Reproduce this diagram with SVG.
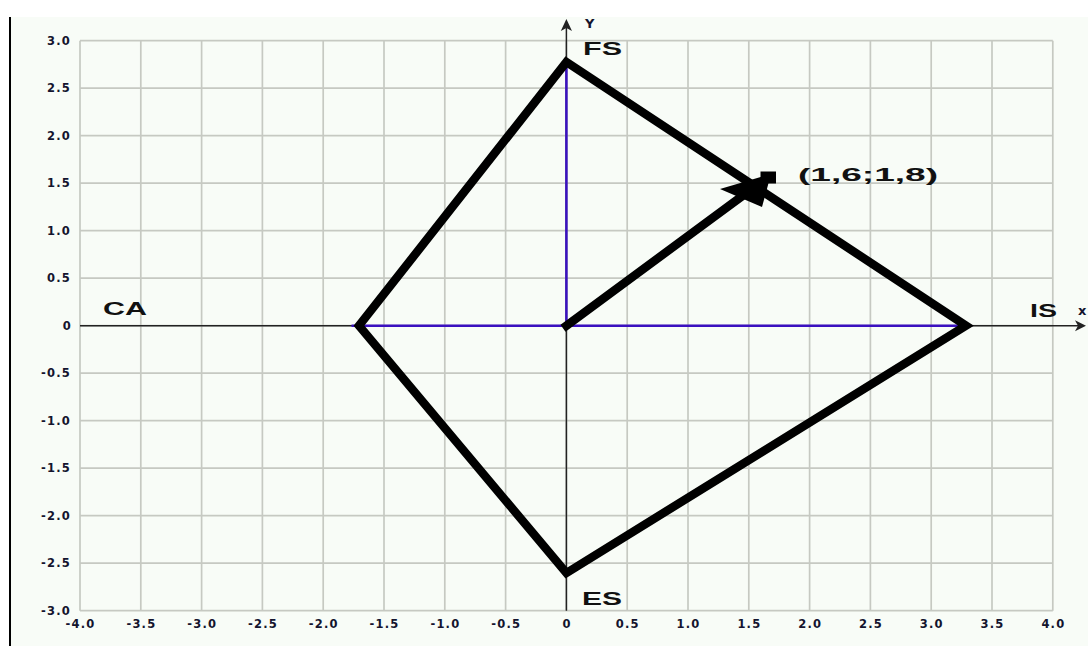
<svg xmlns="http://www.w3.org/2000/svg" width="1088" height="646" viewBox="0 0 1088 646">
<style>
.grid line{stroke:#c6c9c2;stroke-width:1.7}
.tick{font-family:"DejaVu Sans",sans-serif;font-weight:bold;font-size:11.5px;fill:#14142e;letter-spacing:1.2px}
.lbl{font-family:"Liberation Sans",Arial,sans-serif;font-weight:bold;font-size:18px;fill:#111}
.axis{stroke:#222;stroke-width:1.5;fill:none}
.blue{stroke:#3a10c0;stroke-width:2.5;fill:none}
.edge{stroke:#000;stroke-width:8.5;fill:none;stroke-linejoin:miter;stroke-linecap:round}
</style>
<rect x="0" y="0" width="1088" height="646" fill="#ffffff"/>
<rect x="11" y="17" width="1077" height="629" fill="#f8fcf7"/>
<line x1="10" y1="17" x2="10" y2="646" stroke="#000" stroke-width="2"/>
<g class="grid">
<line x1="80" y1="40.7" x2="80" y2="610.7"/>
<line x1="140.8" y1="40.7" x2="140.8" y2="610.7"/>
<line x1="201.6" y1="40.7" x2="201.6" y2="610.7"/>
<line x1="262.4" y1="40.7" x2="262.4" y2="610.7"/>
<line x1="323.2" y1="40.7" x2="323.2" y2="610.7"/>
<line x1="384" y1="40.7" x2="384" y2="610.7"/>
<line x1="444.8" y1="40.7" x2="444.8" y2="610.7"/>
<line x1="505.6" y1="40.7" x2="505.6" y2="610.7"/>
<line x1="566.4" y1="40.7" x2="566.4" y2="610.7"/>
<line x1="627.2" y1="40.7" x2="627.2" y2="610.7"/>
<line x1="688" y1="40.7" x2="688" y2="610.7"/>
<line x1="748.8" y1="40.7" x2="748.8" y2="610.7"/>
<line x1="809.6" y1="40.7" x2="809.6" y2="610.7"/>
<line x1="870.4" y1="40.7" x2="870.4" y2="610.7"/>
<line x1="931.2" y1="40.7" x2="931.2" y2="610.7"/>
<line x1="992" y1="40.7" x2="992" y2="610.7"/>
<line x1="1052.8" y1="40.7" x2="1052.8" y2="610.7"/>
<line x1="80" y1="40.7" x2="1052.8" y2="40.7"/>
<line x1="80" y1="88.2" x2="1052.8" y2="88.2"/>
<line x1="80" y1="135.7" x2="1052.8" y2="135.7"/>
<line x1="80" y1="183.2" x2="1052.8" y2="183.2"/>
<line x1="80" y1="230.7" x2="1052.8" y2="230.7"/>
<line x1="80" y1="278.2" x2="1052.8" y2="278.2"/>
<line x1="80" y1="325.7" x2="1052.8" y2="325.7"/>
<line x1="80" y1="373.2" x2="1052.8" y2="373.2"/>
<line x1="80" y1="420.7" x2="1052.8" y2="420.7"/>
<line x1="80" y1="468.2" x2="1052.8" y2="468.2"/>
<line x1="80" y1="515.7" x2="1052.8" y2="515.7"/>
<line x1="80" y1="563.2" x2="1052.8" y2="563.2"/>
<line x1="80" y1="610.7" x2="1052.8" y2="610.7"/>
</g>
<g class="tick" text-anchor="end">
<text x="71" y="44.9">3.0</text>
<text x="71" y="92.4">2.5</text>
<text x="71" y="139.9">2.0</text>
<text x="71" y="187.4">1.5</text>
<text x="71" y="234.9">1.0</text>
<text x="71" y="282.4">0.5</text>
<text x="72" y="329.9">0</text>
<text x="71" y="377.4">-0.5</text>
<text x="71" y="424.9">-1.0</text>
<text x="71" y="472.4">-1.5</text>
<text x="71" y="519.9">-2.0</text>
<text x="71" y="567.4">-2.5</text>
<text x="71" y="614.9">-3.0</text>
</g>
<g class="tick" text-anchor="middle">
<text x="80.6" y="627.8">-4.0</text>
<text x="141.4" y="627.8">-3.5</text>
<text x="202.2" y="627.8">-3.0</text>
<text x="263" y="627.8">-2.5</text>
<text x="323.8" y="627.8">-2.0</text>
<text x="384.6" y="627.8">-1.5</text>
<text x="445.4" y="627.8">-1.0</text>
<text x="506.2" y="627.8">-0.5</text>
<text x="567" y="627.8">0</text>
<text x="627.8" y="627.8">0.5</text>
<text x="688.6" y="627.8">1.0</text>
<text x="749.4" y="627.8">1.5</text>
<text x="810.2" y="627.8">2.0</text>
<text x="871" y="627.8">2.5</text>
<text x="931.8" y="627.8">3.0</text>
<text x="992.6" y="627.8">3.5</text>
<text x="1053.4" y="627.8">4.0</text>
</g>
<g id="axes">
<line class="axis" x1="566.4" y1="610.7" x2="566.4" y2="26"/>
<polygon points="566.4,19 572,31 566.4,28 560.8,31" fill="#222"/>
<line class="axis" x1="80" y1="325.7" x2="1080" y2="325.7"/>
<polygon points="1086,325.7 1075,320.2 1078,325.7 1075,331.2" fill="#222"/>
<text x="585" y="27.5" class="tick" style="font-size:13px">Y</text>
<text x="1078" y="314.5" class="tick" style="font-size:13px">x</text>
</g>
<g id="connectors">
<line class="blue" x1="566.4" y1="325.7" x2="566.4" y2="59"/>
<line class="blue" x1="351.5" y1="325.7" x2="966" y2="325.7"/>
<polygon class="edge" points="566.4,62 966,325.7 566.4,573 359,325.7"/>
<line x1="566.4" y1="325.7" x2="745" y2="194" stroke="#000" stroke-width="8.5" stroke-linecap="square"/>
<polygon points="771,174 720,189 762,207" fill="#000"/>
<rect x="760.5" y="171.5" width="15.5" height="12" fill="#000"/>
</g>
<g id="FS"><text class="lbl" x="583" y="55" textLength="39" lengthAdjust="spacingAndGlyphs">FS</text></g>
<g id="IS"><text class="lbl" x="1030" y="316.7" textLength="27" lengthAdjust="spacingAndGlyphs">IS</text></g>
<g id="ES"><text class="lbl" x="582" y="604.5" textLength="40" lengthAdjust="spacingAndGlyphs">ES</text></g>
<g id="CA"><text class="lbl" x="103" y="315" textLength="44" lengthAdjust="spacingAndGlyphs">CA</text></g>
<g id="point"><text class="lbl" x="798" y="181" textLength="140" lengthAdjust="spacingAndGlyphs">(1,6;1,8)</text></g>
</svg>
